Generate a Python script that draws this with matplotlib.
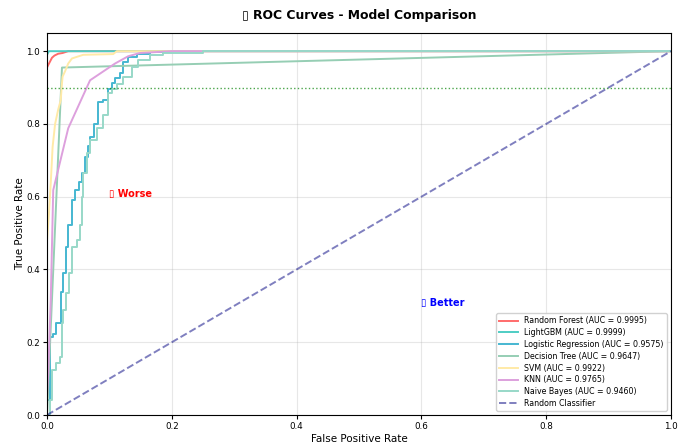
import matplotlib.pyplot as plt

# ROC points (fpr, tpr)
rf_fpr = [0.0, 0.0, 0.002, 0.005, 0.008, 0.012, 0.018, 0.025, 0.034, 1.0]
rf_tpr = [0.0, 0.955, 0.962, 0.972, 0.982, 0.988, 0.993, 0.995, 1.0, 1.0]

lgbm_fpr = [0.0, 0.0, 0.003, 1.0]
lgbm_tpr = [0.0, 0.99, 1.0, 1.0]

lr_fpr = [0.0, 0.0, 0.005, 0.005, 0.010, 0.010, 0.014, 0.014, 0.022, 0.022, 0.026, 0.026,
          0.030, 0.030, 0.034, 0.034, 0.040, 0.040, 0.045, 0.045, 0.052, 0.052, 0.056, 0.056,
          0.061, 0.061, 0.066, 0.066, 0.069, 0.069, 0.076, 0.076, 0.082, 0.082, 0.090, 0.090,
          0.098, 0.098, 0.104, 0.104, 0.109, 0.109, 0.117, 0.117, 0.122, 0.122, 0.130, 0.130,
          0.144, 0.144, 0.165, 0.165, 0.200, 0.200, 1.0]
lr_tpr = [0.0, 0.04, 0.04, 0.214, 0.214, 0.222, 0.222, 0.253, 0.253, 0.339, 0.339, 0.39,
          0.39, 0.462, 0.462, 0.522, 0.522, 0.59, 0.59, 0.618, 0.618, 0.64, 0.64, 0.664,
          0.664, 0.71, 0.71, 0.74, 0.74, 0.765, 0.765, 0.80, 0.80, 0.861, 0.861, 0.865,
          0.865, 0.897, 0.897, 0.912, 0.912, 0.925, 0.925, 0.939, 0.939, 0.971, 0.971, 0.984,
          0.984, 0.993, 0.993, 0.997, 0.997, 1.0, 1.0]

dt_fpr = [0.0, 0.024, 1.0]
dt_tpr = [0.0, 0.955, 1.0]

svm_fpr = [0.0, 0.0, 0.003, 0.006, 0.009, 0.013, 0.018, 0.022, 0.024, 0.025, 0.029,
           0.034, 0.040, 0.058, 0.106, 0.112, 1.0]
svm_tpr = [0.0, 0.48, 0.55, 0.637, 0.737, 0.80, 0.84, 0.865, 0.912, 0.93, 0.945,
           0.966, 0.98, 0.99, 0.992, 1.0, 1.0]

knn_fpr = [0.0, 0.0, 0.002, 0.006, 0.010, 0.034, 0.069, 0.109, 0.130, 0.149, 0.200, 1.0]
knn_tpr = [0.0, 0.05, 0.115, 0.316, 0.618, 0.788, 0.92, 0.966, 0.986, 0.995, 1.0, 1.0]

nb_fpr = [0.0, 0.005, 0.005, 0.0075, 0.0075, 0.015, 0.015, 0.021, 0.021, 0.0235, 0.0235,
          0.026, 0.026, 0.030, 0.030, 0.036, 0.036, 0.040, 0.040, 0.048, 0.048, 0.053, 0.053,
          0.056, 0.056, 0.058, 0.058, 0.064, 0.064, 0.069, 0.069, 0.080, 0.080, 0.090, 0.090,
          0.098, 0.098, 0.104, 0.104, 0.112, 0.112, 0.122, 0.122, 0.136, 0.136, 0.146, 0.146,
          0.165, 0.165, 0.186, 0.186, 0.25, 0.25, 1.0]
nb_tpr = [0.0, 0.0, 0.04, 0.04, 0.124, 0.124, 0.143, 0.143, 0.16, 0.16, 0.253,
          0.253, 0.288, 0.288, 0.335, 0.335, 0.39, 0.39, 0.462, 0.462, 0.48, 0.48, 0.522,
          0.522, 0.60, 0.60, 0.665, 0.665, 0.719, 0.719, 0.755, 0.755, 0.79, 0.79, 0.824,
          0.824, 0.884, 0.884, 0.897, 0.897, 0.91, 0.91, 0.929, 0.929, 0.957, 0.957, 0.975,
          0.975, 0.989, 0.989, 0.995, 0.995, 1.0, 1.0]

models = ["Random Forest", "LightGBM", "Logistic Regression", "Decision Tree",
          "SVM", "KNN", "Naive Bayes"]
aucs = [0.9995, 0.9999, 0.9575, 0.9647, 0.9922, 0.9765, 0.9460]
colors = ["#FF6B6B", "#4ECDC4", "#45B7D1", "#96CEB4", "#FFEAA7", "#DDA0DD", "#98D8C8"]
fprs = [rf_fpr, lgbm_fpr, lr_fpr, dt_fpr, svm_fpr, knn_fpr, nb_fpr]
tprs = [rf_tpr, lgbm_tpr, lr_tpr, dt_tpr, svm_tpr, knn_tpr, nb_tpr]

# the reference shows an empty box where its emoji failed to render
BOX = "\u25AF"

fig = plt.figure(figsize=(6.86, 4.44), dpi=100)
ax = fig.add_axes([0.0685, 0.0653, 0.9096, 0.8604])

for name, auc, c, x, y in zip(models, aucs, colors, fprs, tprs):
    ax.plot(x, y, color=c, lw=1.4, label=f"{name} (AUC = {auc:.4f})")

ax.plot([0, 1], [0, 1], color="navy", ls="--", lw=1.4, alpha=0.5, label="Random Classifier")
ax.axhline(0.9, color="green", ls=":", lw=1, alpha=0.7)

ax.text(0.1, 0.6, BOX + " Worse", color="red", fontsize=7, fontweight="bold")
ax.text(0.6, 0.3, BOX + " Better", color="blue", fontsize=7, fontweight="bold")

ax.set_xlim(0, 1)
ax.set_ylim(0, 1.05)
ax.set_xlabel("False Positive Rate", fontsize=7.5, labelpad=2)
ax.set_ylabel("True Positive Rate", fontsize=7.5, labelpad=1)
ax.set_title(BOX + " ROC Curves - Model Comparison", fontsize=8.9, fontweight="bold", pad=10)
ax.tick_params(labelsize=6.3, length=3, pad=2)
ax.grid(True, alpha=0.3)
ax.legend(loc="lower right", fontsize=5.7, framealpha=0.9, handlelength=2.4,
          labelspacing=0.35)

fig.savefig("out.png", dpi=100)
